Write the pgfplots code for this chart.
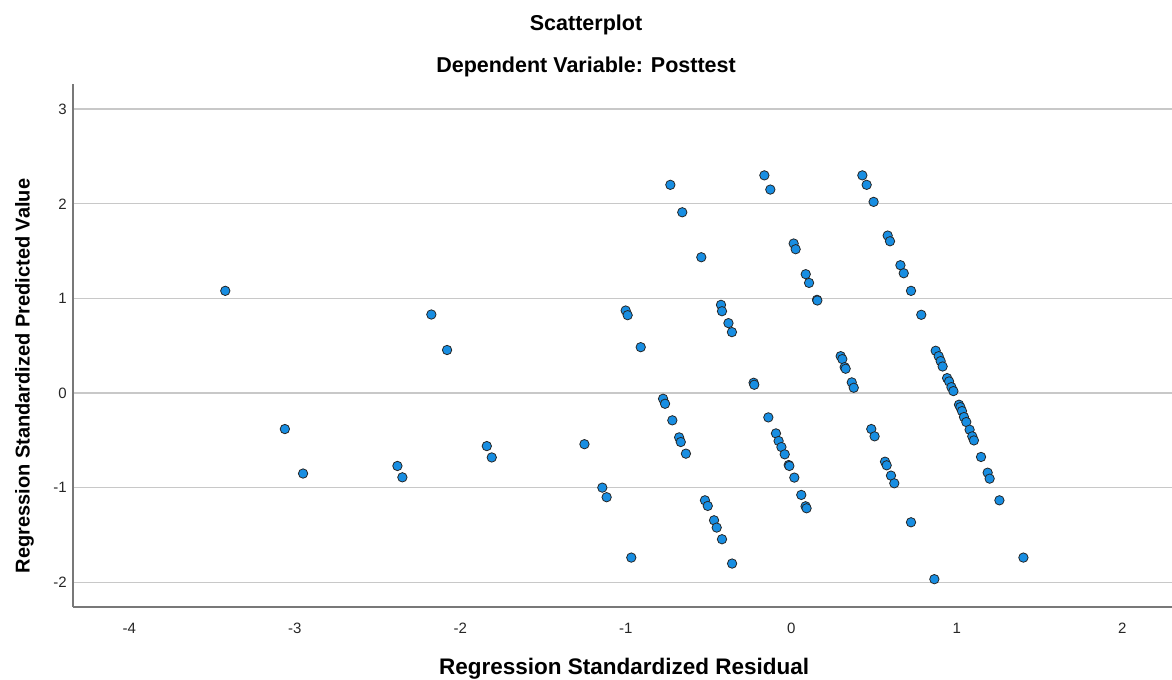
\documentclass[border=0pt]{standalone}
\usepackage{pgfplots}
\pgfplotsset{compat=1.18}
\usepackage{fontspec}
\setmainfont{Liberation Sans}
\definecolor{spssblue}{RGB}{24,142,226}
\definecolor{gridgray}{RGB}{200,200,200}
\definecolor{axisgray}{RGB}{120,120,120}
\begin{document}
\begin{tikzpicture}
\useasboundingbox (-73bp,-73bp) rectangle (1099bp,607bp);
\begin{axis}[
  at={(0,0)}, anchor=south west,
  scale only axis,
  width=1099bp, height=522.5bp,
  xmin=-4.34, xmax=2.30,
  ymin=-2.26, ymax=3.26,
  axis x line*=bottom, axis y line*=left,
  axis line style={axisgray, line width=1.3bp},
  xtick={-4,-3,-2,-1,0,1,2},
  ytick={-2,-1,0,1,2,3},
  major tick length=0pt,
  ymajorgrids,
  major grid style={gridgray, line width=1.4bp},
  /pgf/number format/assume math mode=true,
  tick label style={font=\fontsize{15bp}{17bp}\selectfont, text=black!85},
  xticklabel style={inner sep=0pt, anchor=north, yshift=-15.5bp},
  yticklabel style={inner sep=0pt, anchor=east, xshift=-6bp},
  xlabel={Regression Standardized Residual},
  ylabel={Regression Standardized Predicted Value},
  xlabel style={at={(axis description cs:0.5014,-0.1177)}, anchor=center, font=\bfseries\fontsize{22.5bp}{26bp}\selectfont},
  ylabel style={at={(axis description cs:-0.0441,0.442)}, anchor=center, font=\bfseries\fontsize{20bp}{24bp}\selectfont},
  title={Scatterplot\\Dependent Variable: Posttest},
  title style={at={(axis description cs:0.4668,1.0625)}, anchor=center, align=center, font=\bfseries\fontsize{21.5bp}{41.4bp}\selectfont},
  clip=false,
]
\addplot[only marks, mark=*, mark size=4.7bp, mark options={fill=spssblue, draw=black!85, line width=0.8bp}] coordinates {
(-3.42,1.08) (-3.06,-0.38) (-2.95,-0.85) (-2.38,-0.77) (-2.35,-0.89)
(-2.175,0.83) (-2.08,0.455) (-1.84,-0.56) (-1.81,-0.68) (-1.25,-0.54)
(-0.731,2.20) (-0.163,2.30) (-0.127,2.15) (-0.659,1.91) (0.014,1.58)
(0.026,1.52) (-0.544,1.435) (0.087,1.256) (0.107,1.164) (-1.001,0.872)
(-0.989,0.823) (-0.425,0.932) (-0.419,0.865) (-0.380,0.739) (-0.359,0.644)
(-0.910,0.485) (-0.228,0.109) (-0.224,0.088) (-0.775,-0.060) (-0.763,-0.113)
(-0.719,-0.288) (-0.678,-0.468) (-0.668,-0.517) (-0.637,-0.640) (-0.139,-0.257)
(-0.093,-0.426) (-0.077,-0.506) (-0.060,-0.570) (-0.040,-0.647) (-0.016,-0.760)
(-0.012,-0.770) (0.018,-0.893) (0.060,-1.076) (0.086,-1.196) (0.092,-1.217)
(-1.142,-0.999) (-1.116,-1.10) (-0.522,-1.133) (-0.505,-1.192) (-0.467,-1.344)
(-0.451,-1.421) (-0.419,-1.544) (-0.967,-1.738) (-0.358,-1.801)
(0.429,2.30) (0.455,2.20) (0.497,2.02) (0.155,0.985) (0.157,0.978)
(0.582,1.664) (0.596,1.604) (0.659,1.351) (0.679,1.266) (0.723,1.080)
(0.785,0.827) (0.298,0.390) (0.308,0.359) (0.322,0.274) (0.328,0.257)
(0.365,0.113) (0.377,0.056) (0.872,0.447) (0.890,0.390) (0.902,0.338)
(0.914,0.281) (0.941,0.158) (0.953,0.123) (0.967,0.063) (0.979,0.021)
(1.013,-0.123) (1.021,-0.148) (1.031,-0.190) (1.043,-0.253) (1.057,-0.306)
(1.077,-0.387) (1.093,-0.457) (1.103,-0.500) (1.146,-0.675) (1.186,-0.841)
(1.198,-0.904) (1.257,-1.133) (1.402,-1.738) (0.864,-1.966) (0.723,-1.365)
(0.483,-0.380) (0.503,-0.457) (0.566,-0.725) (0.576,-0.763) (0.602,-0.872)
(0.622,-0.953)
};
\end{axis}
\end{tikzpicture}
\end{document}
